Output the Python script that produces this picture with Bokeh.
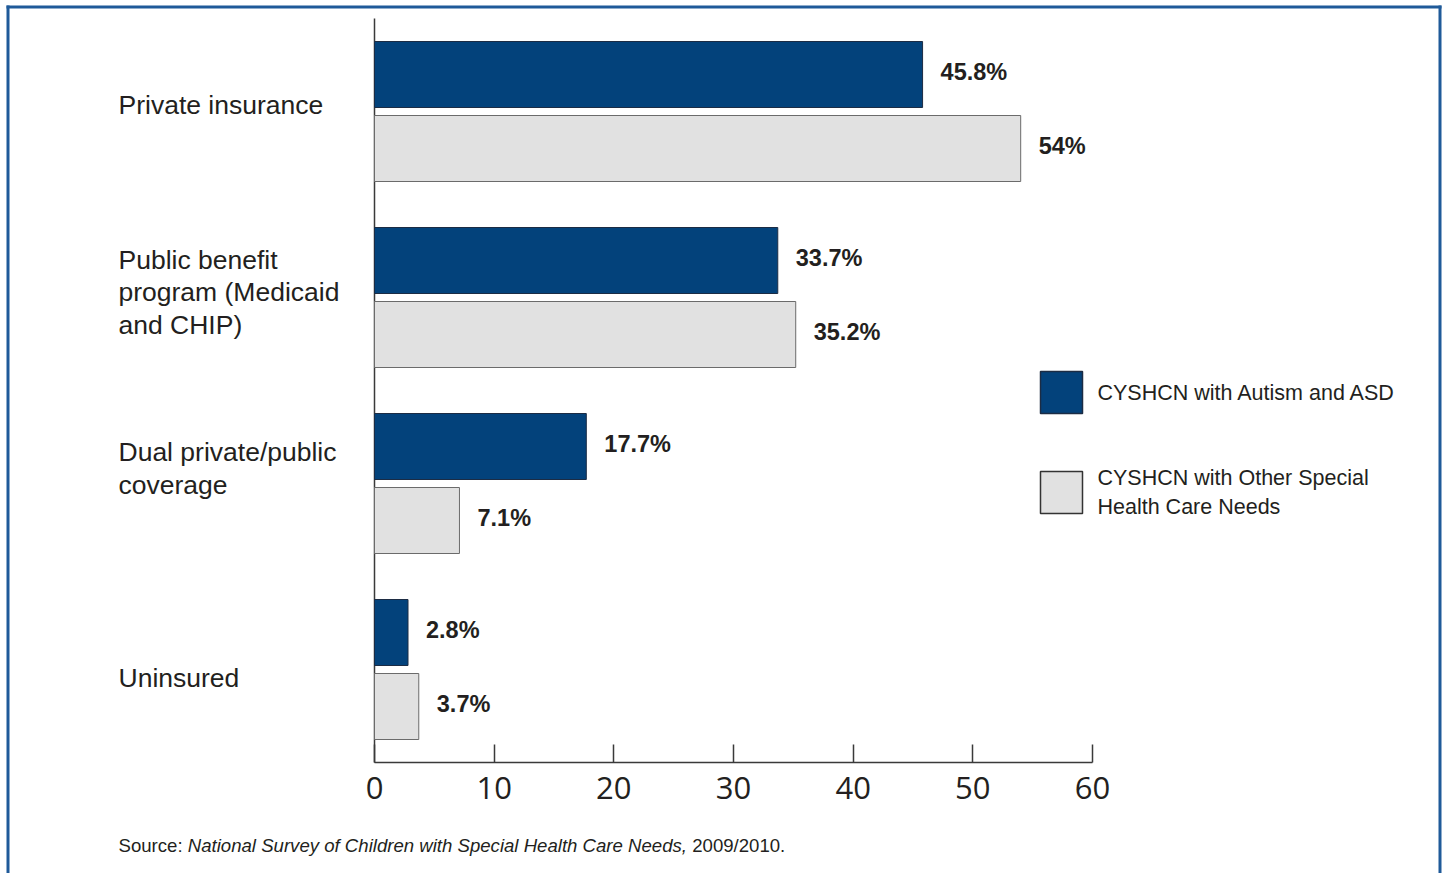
from bokeh.plotting import figure
from bokeh.models import ColumnDataSource, Range1d, FixedTicker, Label, BoxAnnotation
from bokeh.core.properties import value
from bokeh.embed import file_html
from bokeh.resources import INLINE

# ---------------- data ----------------
categories = [
    "Private insurance",
    "Public benefit\nprogram (Medicaid\nand CHIP)",
    "Dual private/public\ncoverage",
    "Uninsured",
]
series_names = ["CYSHCN with Autism and ASD", "CYSHCN with Other Special\nHealth Care Needs"]
autism_values = [45.8, 33.7, 17.7, 2.8]
other_values = [54.0, 35.2, 7.1, 3.7]
x_ticks = [0, 10, 20, 30, 40, 50, 60]
source_parts = ["Source:", "National Survey of Children with Special Health Care Needs,", "2009/2010."]

# ---------------- styling ----------------
DARK = "#03427b"
DARK_LINE = "#1c2c44"
LIGHT = "#e1e1e1"
LIGHT_LINE = "#6b6b6b"
TXT = "#231f20"
BORDER = "#1f5a99"
SANS = "Liberation Sans"
LABEL_NUDGE = [7, 5, 15, -8]  # pixel nudges of the category labels

W, H = 1447, 873
AX_L, AX_R, AX_T, AX_B = 374, 1092, 18, 762  # pixel box of the plotted data area
XMAX = 60
n = len(categories)

def px_x(px):
    return (px - AX_L) * XMAX / (AX_R - AX_L)

def px_y(py):
    return (AX_B - py) * n / (AX_B - AX_T)

p = figure(
    width=W, height=H,
    x_range=Range1d(px_x(0), px_x(W)), y_range=Range1d(px_y(H), px_y(0)),
    output_backend="svg", toolbar_location=None,
    min_border_left=0, min_border_right=0, min_border_top=0, min_border_bottom=0,
)
p.outline_line_color = None
p.grid.visible = False
p.yaxis.visible = False
p.background_fill_color = "white"
p.border_fill_color = "white"

# x axis, drawn inside the canvas at y = 0
ax = p.xaxis[0]
ax.fixed_location = 0
ax.bounds = (0, XMAX)
ax.ticker = FixedTicker(ticks=x_ticks)
ax.major_tick_in = 18
ax.major_tick_out = 0
ax.minor_tick_line_color = None
ax.axis_line_color = "#3a3a3a"
ax.axis_line_width = 1.5
ax.major_tick_line_color = "#3a3a3a"
ax.major_tick_line_width = 1.5
ax.major_label_text_font = "Open Sans"
ax.major_label_text_font_size = "31px"
ax.major_label_text_color = TXT
ax.major_label_standoff = 14

# y axis line
p.segment(x0=[0], y0=[0], x1=[0], y1=[n], line_color="#3a3a3a", line_width=1.5)

# bars
centers = [n - 0.5 - i for i in range(n)]
off = 37 / 186
bar_h = 66 / 186
src_a = ColumnDataSource(dict(y=[c + off for c in centers], v=autism_values,
                              t=[f"{v:g}%" for v in autism_values]))
src_o = ColumnDataSource(dict(y=[c - off for c in centers], v=other_values,
                              t=[f"{v:g}%" for v in other_values]))
p.hbar(y="y", left=0, right="v", height=bar_h, source=src_a,
       fill_color=DARK, line_color=DARK_LINE, line_width=1)
p.hbar(y="y", left=0, right="v", height=bar_h, source=src_o,
       fill_color=LIGHT, line_color=LIGHT_LINE, line_width=1)

for s in (src_a, src_o):
    p.text(x="v", y="y", text="t", source=s, x_offset=18, y_offset=-3,
           text_font=value(SANS), text_font_style="bold", text_font_size="23.5px",
           text_color=TXT, text_align="left", text_baseline="middle")

# category labels
for c, lab, nd in zip(centers, categories, LABEL_NUDGE):
    p.add_layout(Label(x=px_x(118), y=c, text=lab, text_font=SANS, text_font_size="26.5px",
                       text_color=TXT, text_align="left", text_baseline="middle",
                       text_line_height=1.07, y_offset=nd))

# legend
leg_y = [px_y(392), px_y(492)]
p.rect(x=[px_x(1061)] * 2, y=leg_y, width=px_x(1082) - px_x(1040), height=42 * n / (AX_B - AX_T),
       fill_color=[DARK, LIGHT], line_color=[DARK_LINE, "#333333"], line_width=1.5)
for yy, name in zip(leg_y, series_names):
    p.add_layout(Label(x=px_x(1097), y=yy, text=name, text_font=SANS, text_font_size="21.5px",
                       text_color=TXT, text_align="left", text_baseline="middle",
                       text_line_height=1.2))

# source note
sy = px_y(845)
xs = [118, 118 + 3.724 * 18.6, 118 + (3.724 + 26.843 + 0.278) * 18.6]
styles = ["normal", "italic", "normal"]
for x0, part, st in zip(xs, source_parts, styles):
    p.add_layout(Label(x=px_x(x0), y=sy, text=part, text_font=SANS, text_font_size="18.6px",
                       text_font_style=st, text_color=TXT, text_align="left",
                       text_baseline="middle"))

# frame border (top, left, right)
p.add_layout(BoxAnnotation(left=px_x(6), right=px_x(1441), top=px_y(5), bottom=px_y(8),
                           fill_color=BORDER, fill_alpha=1, line_color=None))
p.add_layout(BoxAnnotation(left=px_x(6), right=px_x(9), top=px_y(5), bottom=px_y(H),
                           fill_color=BORDER, fill_alpha=1, line_color=None))
p.add_layout(BoxAnnotation(left=px_x(1438), right=px_x(1441), top=px_y(5), bottom=px_y(H),
                           fill_color=BORDER, fill_alpha=1, line_color=None))

open("out.html", "w").write(file_html(p, INLINE))
